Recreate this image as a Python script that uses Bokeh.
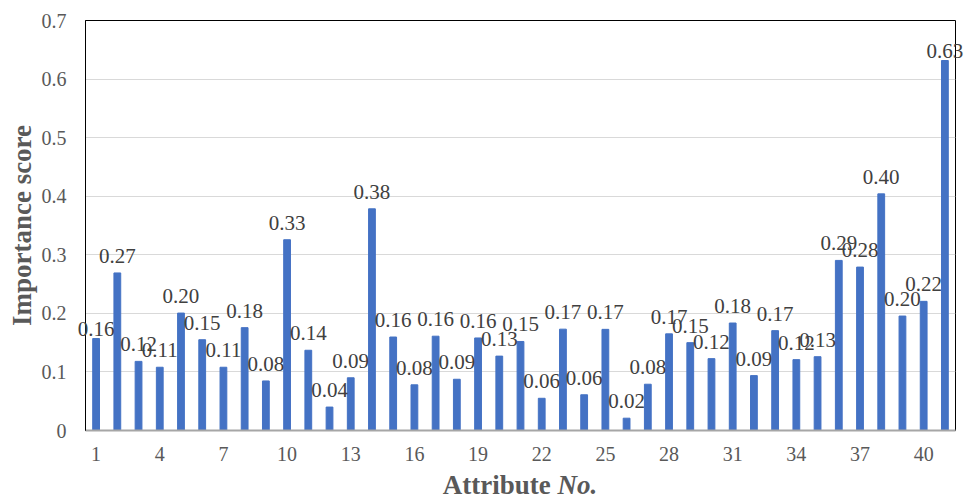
from bokeh.plotting import figure
from bokeh.layouts import column
from bokeh.models import ColumnDataSource, LabelSet, Label, Range1d, FixedTicker, Div
from bokeh.embed import file_html
from bokeh.resources import INLINE

# Importance score of each attribute (attribute numbers 1..41)
attributes = list(range(1, 42))
scores = [0.157, 0.269, 0.118, 0.108, 0.2005, 0.155, 0.108, 0.1756, 0.0846, 0.3257,
          0.137, 0.040, 0.090, 0.3785, 0.1596, 0.078, 0.161, 0.0875, 0.158, 0.127,
          0.152, 0.055, 0.173, 0.061, 0.1727, 0.021, 0.079, 0.165, 0.150, 0.1227,
          0.1835, 0.0937, 0.1705, 0.121, 0.126, 0.2904, 0.279, 0.404, 0.1954, 0.2205,
          0.6317]
x_ticks = [1, 4, 7, 10, 13, 16, 19, 22, 25, 28, 31, 34, 37, 40]
y_ticks = [0, 0.1, 0.2, 0.3, 0.4, 0.5, 0.6, 0.7]
y_tick_labels = ["0", "0.1", "0.2", "0.3", "0.4", "0.5", "0.6", "0.7"]

SERIF = "Liberation Serif"
GREY = "#595959"
labels = [f"{v:.2f}" for v in scores]

source = ColumnDataSource(dict(x=attributes, y=scores))
# the inner value labels; the first and last ones overhang the frame and are
# placed in side panels so that they are not clipped
inner = ColumnDataSource(dict(x=attributes[1:-1], y=scores[1:-1], label=labels[1:-1]))

p = figure(width=964, height=500, output_backend="svg", toolbar_location=None,
           x_range=Range1d(0.5, 41.5), y_range=Range1d(0, 0.7),
           min_border_left=85, min_border_right=9, min_border_top=20,
           min_border_bottom=70)

p.vbar(x="x", top="y", width=0.32, source=source, color="#4472C4")

label_style = dict(text_align="center", text_baseline="alphabetic", y_offset=10,
                   text_font=SERIF, text_font_size="21px", text_color="#404040")
p.add_layout(LabelSet(x="x", y="y", text="label", source=inner, **label_style))
p.add_layout(Label(x=attributes[0], y=scores[0], text=labels[0], **label_style), "below")
p.add_layout(Label(x=attributes[-1], y=scores[-1], text=labels[-1], **label_style), "above")

# frame and grid
p.outline_line_color = "black"
p.outline_line_width = 1
p.xgrid.grid_line_color = None
p.ygrid.grid_line_color = "#D9D9D9"
p.ygrid.grid_line_width = 1
p.background_fill_color = "white"
p.border_fill_color = None

# x axis
p.xaxis.ticker = FixedTicker(ticks=x_ticks)
p.xaxis.axis_line_color = "#A6A6A6"
p.xaxis.axis_line_width = 2
p.xaxis.major_tick_line_color = None
p.xaxis.minor_tick_line_color = None
p.xaxis.major_tick_out = 0
p.xaxis.major_tick_in = 0
p.xaxis.major_label_standoff = 16
p.xaxis.major_label_text_font = SERIF
p.xaxis.major_label_text_font_size = "20px"
p.xaxis.major_label_text_color = GREY

# y axis
p.yaxis.ticker = FixedTicker(ticks=y_ticks)
p.yaxis.major_label_overrides = {t: s for t, s in zip(y_ticks, y_tick_labels)}
p.yaxis.axis_line_color = "black"
p.yaxis.major_tick_line_color = None
p.yaxis.minor_tick_line_color = None
p.yaxis.major_tick_out = 0
p.yaxis.major_tick_in = 0
p.yaxis.major_label_standoff = 19
p.yaxis.major_label_text_font = SERIF
p.yaxis.major_label_text_font_size = "20px"
p.yaxis.major_label_text_color = GREY
p.yaxis.axis_label = "Importance score"
p.yaxis.axis_label_standoff = 2
p.yaxis.axis_label_text_font = SERIF
p.yaxis.axis_label_text_font_style = "bold"
p.yaxis.axis_label_text_font_size = "27px"
p.yaxis.axis_label_text_color = GREY

# x axis title, with an italic "No.", laid over the bottom border of the plot
x_title = Div(
    text=("<div style=\"width:870px; text-align:center; "
          "font-family:'Liberation Serif', serif; font-size:27px; font-weight:bold; "
          "color:#595959; line-height:30px; white-space:nowrap;\">"
          "Attribute <i>No.</i></div>"),
    width=870, height=30, margin=(-30, 9, 0, 85),
    styles={"position": "relative", "z-index": "10"},
)

layout = column(p, x_title, spacing=0)

open("out.html", "w").write(file_html(layout, INLINE))
